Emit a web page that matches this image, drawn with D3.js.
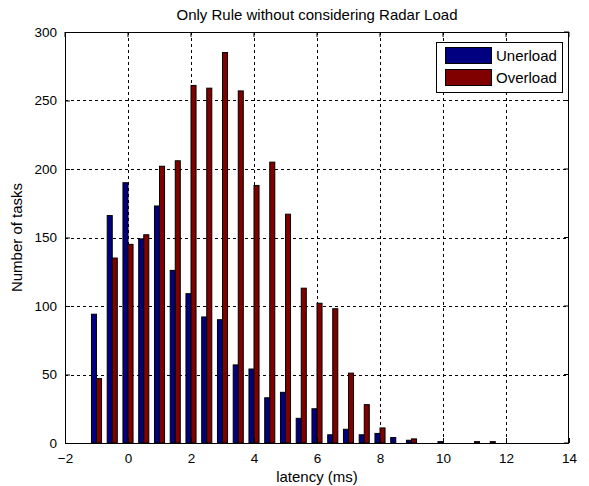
<!DOCTYPE html>
<html>
<head>
<meta charset="utf-8">
<script src="https://cdn.jsdelivr.net/npm/d3@7"></script>
<style>
  body { margin: 0; background: #fff; }
  svg { display: block; }
  text { font-family: "Liberation Sans", Arial, sans-serif; fill: #000; }
</style>
</head>
<body>
<svg id="chart" width="589" height="486"></svg>
<script>
// ---- data ----
const binCenters = [-1, -0.5, 0, 0.5, 1, 1.5, 2, 2.5, 3, 3.5, 4, 4.5, 5, 5.5, 6, 6.5, 7, 7.5, 8, 8.5, 9, 9.5, 10, 10.5, 11, 11.5];
const unerload  = [94, 166, 190, 149, 173, 126, 109, 92, 90, 57, 54, 33, 37, 18, 25, 6, 10, 6, 7, 4, 2, 0, 1, 0, 0, 0];
const overload  = [47, 135, 145, 152, 202, 206, 261, 259, 285, 257, 188, 205, 167, 113, 102, 98, 51, 28, 11, 0, 3, 0, 0, 0, 1, 1];
const seriesNames = ["Unerload", "Overload"];
const xTicks = [-2, 0, 2, 4, 6, 8, 10, 12, 14];
const yTicks = [0, 50, 100, 150, 200, 250, 300];
const titleText = "Only Rule without considering Radar Load";
const xLabel = "latency (ms)";
const yLabel = "Number of tasks";

// ---- layout ----
const svg = d3.select("#chart");
const L = 65, R = 569, T = 32, B = 443;
const colors = ["#000080", "#800000"];
const x = d3.scaleLinear().domain([-2, 14]).range([L, R]);
const y = d3.scaleLinear().domain([0, 300]).range([B, T]);
const halfW = 0.16; // bar width in data units

svg.append("rect").attr("x", 0).attr("y", 0).attr("width", 589).attr("height", 486).attr("fill", "#fff");
svg.append("rect").attr("x", L).attr("y", T).attr("width", R - L).attr("height", B - T).attr("fill", "#fff");

// grid
const grid = svg.append("g").attr("stroke", "#000").attr("stroke-width", 1).attr("stroke-dasharray", "3,3").attr("fill", "none");
xTicks.slice(1, -1).forEach(t => {
  grid.append("line").attr("x1", Math.round(x(t)) + 0.5).attr("x2", Math.round(x(t)) + 0.5).attr("y1", T).attr("y2", B);
});
yTicks.slice(1, -1).forEach(t => {
  grid.append("line").attr("y1", Math.round(y(t)) + 0.5).attr("y2", Math.round(y(t)) + 0.5).attr("x1", L).attr("x2", R);
});
grid.append("line").attr("y1", T + 0.5).attr("y2", T + 0.5).attr("x1", L).attr("x2", R);

// bars
const data = binCenters.map((c, i) => ({ c, v: [unerload[i], overload[i]] }));
const bars = svg.append("g");
[0, 1].forEach(s => {
  bars.selectAll(null).data(data.filter(d => d.v[s] > 0)).enter().append("rect")
    .attr("x", d => s === 0 ? x(d.c - halfW) : x(d.c))
    .attr("width", x(halfW) - x(0))
    .attr("y", d => y(d.v[s]))
    .attr("height", d => y(0) - y(d.v[s]))
    .attr("fill", colors[s])
    .attr("stroke", "#000")
    .attr("stroke-width", 1);
});

// axes
const xAxis = d3.axisBottom(x).tickValues(xTicks).tickSize(-5).tickPadding(10).tickFormat(d3.format("d"));
const yAxis = d3.axisLeft(y).tickValues(yTicks).tickSize(-5).tickPadding(8).tickFormat(d3.format("d"));
const gx = svg.append("g").attr("transform", `translate(0,${B})`).call(xAxis);
const gy = svg.append("g").attr("transform", `translate(${L},0)`).call(yAxis);
[gx, gy].forEach(g => {
  g.select(".domain").remove();
  g.selectAll("line").attr("stroke", "#000");
  g.selectAll("text").attr("font-size", 13.5).attr("font-family", "Liberation Sans, Arial, sans-serif").attr("fill", "#000");
});
const tk = svg.append("g").attr("stroke", "#000");
xTicks.forEach(t => tk.append("line").attr("x1", x(t)).attr("x2", x(t)).attr("y1", T).attr("y2", T + 5));
yTicks.forEach(t => tk.append("line").attr("y1", y(t)).attr("y2", y(t)).attr("x1", R).attr("x2", R - 5));

// box
svg.append("rect").attr("x", L + 0.5).attr("y", T + 0.5).attr("width", R - L - 1).attr("height", B - T)
  .attr("fill", "none").attr("stroke", "#000").attr("stroke-width", 1);

// title & labels
svg.append("text").attr("x", (L + R) / 2).attr("y", 20).attr("text-anchor", "middle").attr("font-size", 15).text(titleText);
svg.append("text").attr("x", (L + R) / 2).attr("y", 482).attr("text-anchor", "middle").attr("font-size", 15).text(xLabel);
svg.append("text").attr("transform", `translate(22,${(T + B) / 2}) rotate(-90)`).attr("text-anchor", "middle").attr("font-size", 15).text(yLabel);

// legend
const lg = svg.append("g").attr("transform", "translate(436,42)");
lg.append("rect").attr("x", 0.5).attr("y", 0.5).attr("width", 126).attr("height", 50).attr("fill", "#fff").attr("stroke", "#000");
seriesNames.forEach((n, i) => {
  lg.append("rect").attr("x", 9.5).attr("y", 5.5 + i * 22).attr("width", 46).attr("height", 16)
    .attr("fill", colors[i]).attr("stroke", "#000");
  lg.append("text").attr("x", 60).attr("y", 19 + i * 22).attr("font-size", 15).text(n);
});
</script>
</body>
</html>
